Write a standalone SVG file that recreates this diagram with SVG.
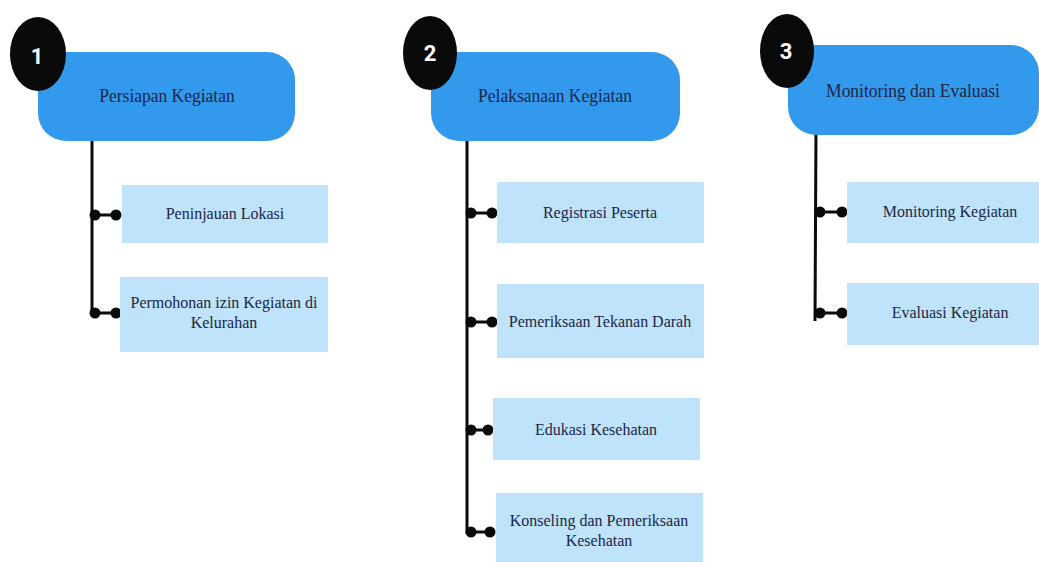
<svg xmlns="http://www.w3.org/2000/svg" width="1039" height="562" viewBox="0 0 1039 562">
<style>
.head{fill:#3399EC}
.sub{fill:#BFE3FB}
.num{fill:#0a0a0a}
.nt{fill:#ffffff;font-family:Roboto,"Liberation Sans",sans-serif;font-weight:bold;font-size:22px;text-anchor:middle}
.ht{fill:#1B2747;font-family:"Liberation Serif",serif;font-size:17.5px;text-anchor:middle}
.st{fill:#1B2747;font-family:"Liberation Serif",serif;font-size:16px;text-anchor:middle}
.ln{stroke:#0a0a0a;stroke-width:3;fill:none}
.dot{fill:#0a0a0a}
</style>
<rect width="1039" height="562" fill="#ffffff"/>
<g id="connectors">
<line class="ln" x1="92" y1="140" x2="92" y2="314"/>
<line class="ln" x1="92" y1="215" x2="116" y2="215"/>
<circle class="dot" cx="95" cy="215" r="5.5"/><circle class="dot" cx="116" cy="215" r="5.5"/>
<line class="ln" x1="92" y1="313" x2="116" y2="313"/>
<circle class="dot" cx="95" cy="313" r="5.5"/><circle class="dot" cx="116" cy="313" r="5.5"/>

<line class="ln" x1="467" y1="136" x2="467" y2="534"/>
<line class="ln" x1="467" y1="213" x2="492" y2="213"/>
<circle class="dot" cx="471" cy="213" r="5.5"/><circle class="dot" cx="492" cy="213" r="5.5"/>
<line class="ln" x1="467" y1="322" x2="492" y2="322"/>
<circle class="dot" cx="471" cy="322" r="5.5"/><circle class="dot" cx="492" cy="322" r="5.5"/>
<line class="ln" x1="467" y1="430" x2="488" y2="430"/>
<circle class="dot" cx="471" cy="430" r="5.5"/><circle class="dot" cx="488" cy="430" r="5.5"/>
<line class="ln" x1="467" y1="532" x2="490" y2="532"/>
<circle class="dot" cx="471" cy="532" r="5.5"/><circle class="dot" cx="490" cy="532" r="5.5"/>

<line class="ln" x1="816" y1="128" x2="815" y2="321"/>
<line class="ln" x1="816" y1="212" x2="842" y2="212"/>
<circle class="dot" cx="820" cy="212" r="5.5"/><circle class="dot" cx="842" cy="212" r="5.5"/>
<line class="ln" x1="816" y1="313" x2="842" y2="313"/>
<circle class="dot" cx="820" cy="313" r="5.5"/><circle class="dot" cx="842" cy="313" r="5.5"/>
</g>

<g id="node-1">
<rect class="head" x="38" y="52" width="257" height="89" rx="28"/>
<ellipse class="num" cx="38" cy="54" rx="28" ry="37"/>
<text class="nt" x="37" y="64">1</text>
<text class="ht" transform="translate(167,102) scale(1,1.12)">Persiapan Kegiatan</text>
</g>
<g id="node-1a">
<rect class="sub" x="122" y="185" width="206" height="58"/>
<text class="st" transform="translate(225,219) scale(1,1.05)">Peninjauan Lokasi</text>
</g>
<g id="node-1b">
<rect class="sub" x="120" y="277" width="208" height="75"/>
<text class="st" transform="translate(224,308) scale(1,1.05)">Permohonan izin Kegiatan di</text>
<text class="st" transform="translate(224,328) scale(1,1.05)">Kelurahan</text>
</g>

<g id="node-2">
<rect class="head" x="431" y="52" width="249" height="89" rx="28"/>
<ellipse class="num" cx="430" cy="53" rx="27" ry="37"/>
<text class="nt" x="430" y="61">2</text>
<text class="ht" transform="translate(555,102) scale(1,1.12)">Pelaksanaan Kegiatan</text>
</g>
<g id="node-2a">
<rect class="sub" x="497" y="182" width="207" height="61"/>
<text class="st" transform="translate(600,218) scale(1,1.05)">Registrasi Peserta</text>
</g>
<g id="node-2b">
<rect class="sub" x="497" y="284" width="207" height="74"/>
<text class="st" transform="translate(600,327) scale(1,1.05)">Pemeriksaan Tekanan Darah</text>
</g>
<g id="node-2c">
<rect class="sub" x="493" y="398" width="207" height="62"/>
<text class="st" transform="translate(596,435) scale(1,1.05)">Edukasi Kesehatan</text>
</g>
<g id="node-2d">
<rect class="sub" x="496" y="493" width="207" height="69"/>
<text class="st" transform="translate(599,526) scale(1,1.05)">Konseling dan Pemeriksaan</text>
<text class="st" transform="translate(599,546) scale(1,1.05)">Kesehatan</text>
</g>

<g id="node-3">
<rect class="head" x="788" y="45" width="251" height="90" rx="28"/>
<ellipse class="num" cx="787" cy="51" rx="27" ry="37"/>
<text class="nt" x="786" y="59">3</text>
<text class="ht" transform="translate(913,97) scale(1,1.12)">Monitoring dan Evaluasi</text>
</g>
<g id="node-3a">
<rect class="sub" x="847" y="182" width="192" height="61"/>
<text class="st" transform="translate(950,217) scale(1,1.05)">Monitoring Kegiatan</text>
</g>
<g id="node-3b">
<rect class="sub" x="847" y="283" width="192" height="62"/>
<text class="st" transform="translate(950,318) scale(1,1.05)">Evaluasi Kegiatan</text>
</g>
</svg>
